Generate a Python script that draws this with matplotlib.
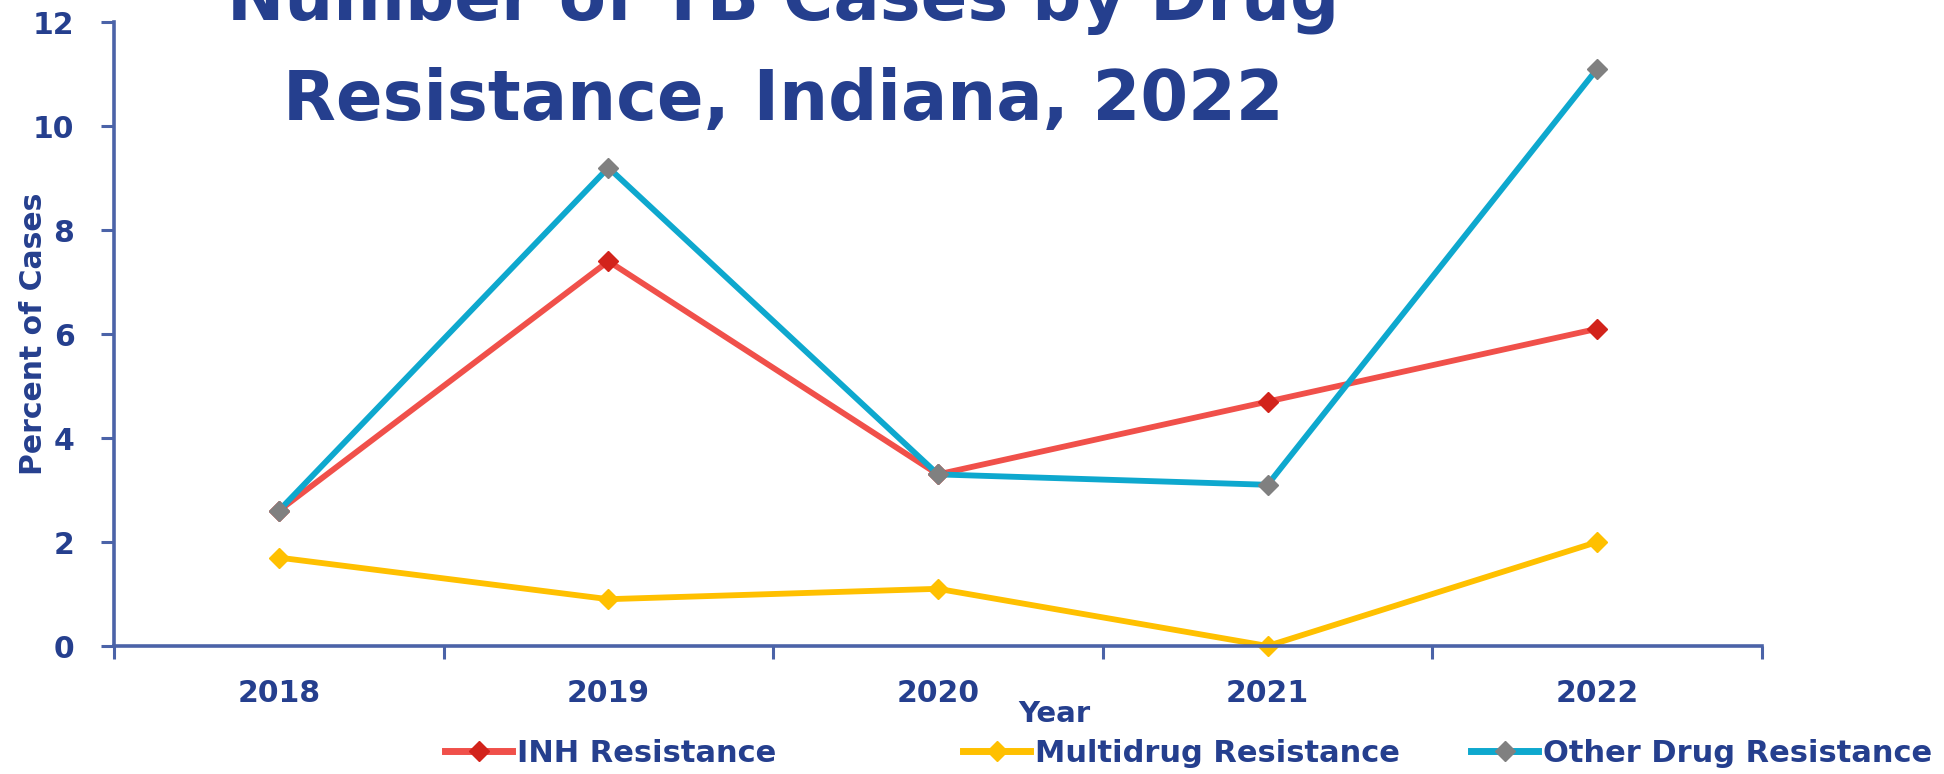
import matplotlib
matplotlib.use("Agg")
import matplotlib.pyplot as plt
from matplotlib.lines import Line2D

# Percent of TB cases with drug resistance, Indiana
years = ["2018", "2019", "2020", "2021", "2022"]
inh_resistance = [2.6, 7.4, 3.3, 4.7, 6.1]
multidrug_resistance = [1.7, 0.9, 1.1, 0.0, 2.0]
other_drug_resistance = [2.6, 9.2, 3.3, 3.1, 11.1]
y_ticks = [0, 2, 4, 6, 8, 10, 12]

series_names = ["INH Resistance", "Multidrug Resistance", "Other Drug Resistance"]

NAVY = "#253F8E"
AXIS = "#4B63A8"
plt.rcParams["font.family"] = ["DejaVu Sans"]
plt.rcParams["font.weight"] = "bold"

W, H = 1944, 774
fig = plt.figure(figsize=(W / 100, H / 100), dpi=100)
fig.patch.set_facecolor("white")
ax = fig.add_axes([114 / W, 1 - 646 / H, (1762 - 114) / W, (646 - 22) / H])

x = list(range(len(years)))
styles = [
    dict(color="#F0504A", mfc="#D2231B", mec="#D2231B"),
    dict(color="#FFC000", mfc="#FFC000", mec="#FFC000"),
    dict(color="#0EA8CE", mfc="#808080", mec="#808080"),
]
lines = []
for vals, name, st in zip([inh_resistance, multidrug_resistance, other_drug_resistance],
                          series_names, styles):
    ln, = ax.plot(x, vals, lw=4.2, marker="D", ms=10, label=name,
                  color=st["color"], markerfacecolor=st["mfc"],
                  markeredgecolor=st["mec"], solid_joinstyle="miter", clip_on=False)
    lines.append(ln)

ax.set_xlim(-0.5, len(years) - 0.5)
ax.set_ylim(0, 12)
ax.set_yticks(y_ticks)
ax.set_yticklabels([str(t) for t in y_ticks])
ax.set_xticks(x)
ax.set_xticklabels(years)
ax.set_xticks([i - 0.5 for i in range(len(years) + 1)], minor=True)

for side in ("top", "right"):
    ax.spines[side].set_visible(False)
for side in ("left", "bottom"):
    ax.spines[side].set_color(AXIS)
    ax.spines[side].set_linewidth(2.6)

ax.tick_params(axis="x", which="major", length=0, pad=24, labelsize=21.5,
               labelcolor=NAVY)
ax.tick_params(axis="x", which="minor", length=9, width=2.2, color=AXIS,
               direction="out")
ax.tick_params(axis="y", length=9.5, width=2.2, color=AXIS, pad=19,
               labelsize=21.5, labelcolor=NAVY)
for lbl in ax.get_xticklabels() + ax.get_yticklabels():
    lbl.set_fontweight("bold")

ax.set_ylabel("Percent of Cases", fontsize=21.5, fontweight="bold", color=NAVY)
ax.yaxis.label.set_verticalalignment("center")
ax.yaxis.set_label_coords(-(114 - 34) / (1762 - 114), 0.5)

ax.set_xlabel("Year", fontsize=21, fontweight="bold", color=NAVY)
ax.xaxis.label.set_verticalalignment("center")
ax.xaxis.set_label_coords((1054 - 114) / (1762 - 114), -(714 - 646) / (646 - 22))

# Two-line title, the first line running off the top edge
fig.text(783 / W, 1 - 20 / H, "Number of TB Cases by Drug", ha="center",
         va="baseline", fontsize=49.5, fontweight="bold", color=NAVY)
fig.text(783 / W, 1 - 120 / H, "Resistance, Indiana, 2022", ha="center",
         va="baseline", fontsize=49.5, fontweight="bold", color=NAVY)

# Legend entries placed individually along the bottom
legend_left = [445, 963, 1471]
for ln, left in zip(lines, legend_left):
    handle = Line2D([], [], color=ln.get_color(), lw=5, marker="D", ms=10,
                    markerfacecolor=ln.get_markerfacecolor(),
                    markeredgecolor=ln.get_markeredgecolor())
    leg = fig.legend(handles=[handle], labels=[ln.get_label()],
                     loc="center left", bbox_to_anchor=(left / W, 1 - 753 / H),
                     frameon=False, borderpad=0, borderaxespad=0,
                     handlelength=2.2, handletextpad=0.15,
                     prop=dict(size=22, weight="bold"))
    for t in leg.get_texts():
        t.set_color(NAVY)

fig.savefig("out.png", dpi=100, facecolor="white")
